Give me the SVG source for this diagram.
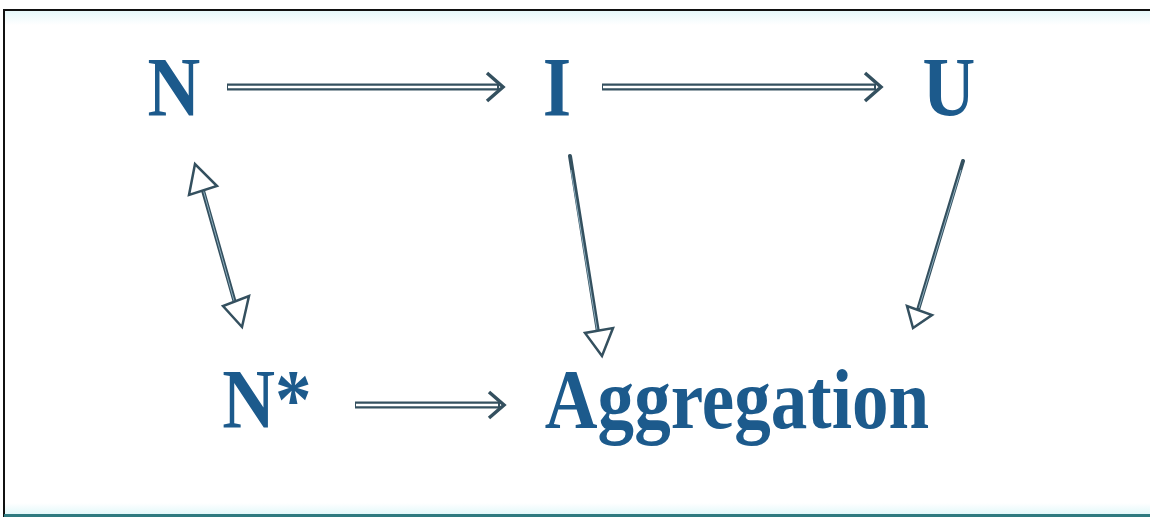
<svg xmlns="http://www.w3.org/2000/svg" width="1150" height="518" viewBox="0 0 1150 518">
  <defs>
    <linearGradient id="topTint" x1="0" y1="0" x2="0" y2="1">
      <stop offset="0" stop-color="#e6f8fa"/>
      <stop offset="1" stop-color="#ffffff"/>
    </linearGradient>
    <linearGradient id="botTint" x1="0" y1="0" x2="0" y2="1">
      <stop offset="0" stop-color="#ffffff"/>
      <stop offset="1" stop-color="#e3f8fa"/>
    </linearGradient>
  </defs>
  <style>
    .lbl { font-family: "Liberation Serif", "Times New Roman", serif; font-weight: bold; font-size: 85px; fill: #1c5a8c; text-anchor: middle; }
    .dbl-out { stroke: #34505f; stroke-width: 7; fill: none; }
    .dbl-in { stroke: #ffffff; stroke-width: 2.5; fill: none; }
    .sl-out { stroke: #34505f; stroke-width: 4; fill: none; stroke-linecap: round; }
    .sl-in { stroke: #8fb0c0; stroke-width: 1; fill: none; }
    .chev { stroke: #34505f; stroke-width: 3.5; fill: none; stroke-linejoin: miter; }
    .tri { stroke: #34505f; stroke-width: 2.5; fill: #ffffff; stroke-linejoin: miter; }
  </style>
  <rect x="0" y="0" width="1150" height="518" fill="#ffffff"/>
  <rect x="4" y="11" width="1146" height="14" fill="url(#topTint)"/>
  <rect x="4" y="503" width="1146" height="11" fill="url(#botTint)"/>
  <line x1="3" y1="10" x2="1150" y2="10" stroke="#111" stroke-width="2"/>
  <line x1="4" y1="9" x2="4" y2="517" stroke="#111" stroke-width="2"/>
  <line x1="4" y1="515.5" x2="1150" y2="515.5" stroke="#2f7a80" stroke-width="3"/>

  <g id="connectors">
    <!-- N -> I -->
    <line class="dbl-out" x1="227" y1="87" x2="499" y2="87"/>
    <line class="dbl-in" x1="228" y1="87" x2="497" y2="87"/>
    <path class="chev" d="M487,73 L503,87 L487,101"/>
    <!-- I -> U -->
    <line class="dbl-out" x1="602" y1="87" x2="876" y2="87"/>
    <line class="dbl-in" x1="603" y1="87" x2="874" y2="87"/>
    <path class="chev" d="M865,73 L881,87 L865,101"/>
    <!-- N* -> Aggregation -->
    <line class="dbl-out" x1="355" y1="405" x2="500" y2="405"/>
    <line class="dbl-in" x1="356" y1="405" x2="498" y2="405"/>
    <path class="chev" d="M489,392 L504,405 L489,418"/>
    <!-- N <-> N* -->
    <line class="sl-out" x1="200" y1="180" x2="237" y2="310"/>
    <line class="sl-in" x1="201" y1="182" x2="236" y2="308"/>
    <path class="tri" d="M195,164 L189,195 L217,186 Z"/>
    <path class="tri" d="M242,327 L223,306 L249,296 Z"/>
    <!-- I -> Aggregation -->
    <line class="sl-out" x1="570" y1="156" x2="598" y2="332"/>
    <line class="sl-in" x1="571" y1="170" x2="597" y2="330"/>
    <path class="tri" d="M602,356 L585,333 L613,328 Z"/>
    <!-- U -> Aggregation -->
    <line class="sl-out" x1="963" y1="161" x2="918" y2="310"/>
    <line class="sl-in" x1="961" y1="170" x2="919" y2="308"/>
    <path class="tri" d="M913,328 L907,306 L932,315 Z"/>
  </g>

  <g id="node-N"><text class="lbl" transform="translate(174,116) scale(0.86,1)">N</text></g>
  <g id="node-I"><text class="lbl" transform="translate(557,116) scale(0.86,1)">I</text></g>
  <g id="node-U"><text class="lbl" transform="translate(949,116) scale(0.86,1)">U</text></g>
  <g id="node-Nstar"><text class="lbl" transform="translate(267,428) scale(0.86,1)">N*</text></g>
  <g id="node-Aggregation"><text class="lbl" transform="translate(737,428) scale(0.86,1)">Aggregation</text></g>
</svg>
